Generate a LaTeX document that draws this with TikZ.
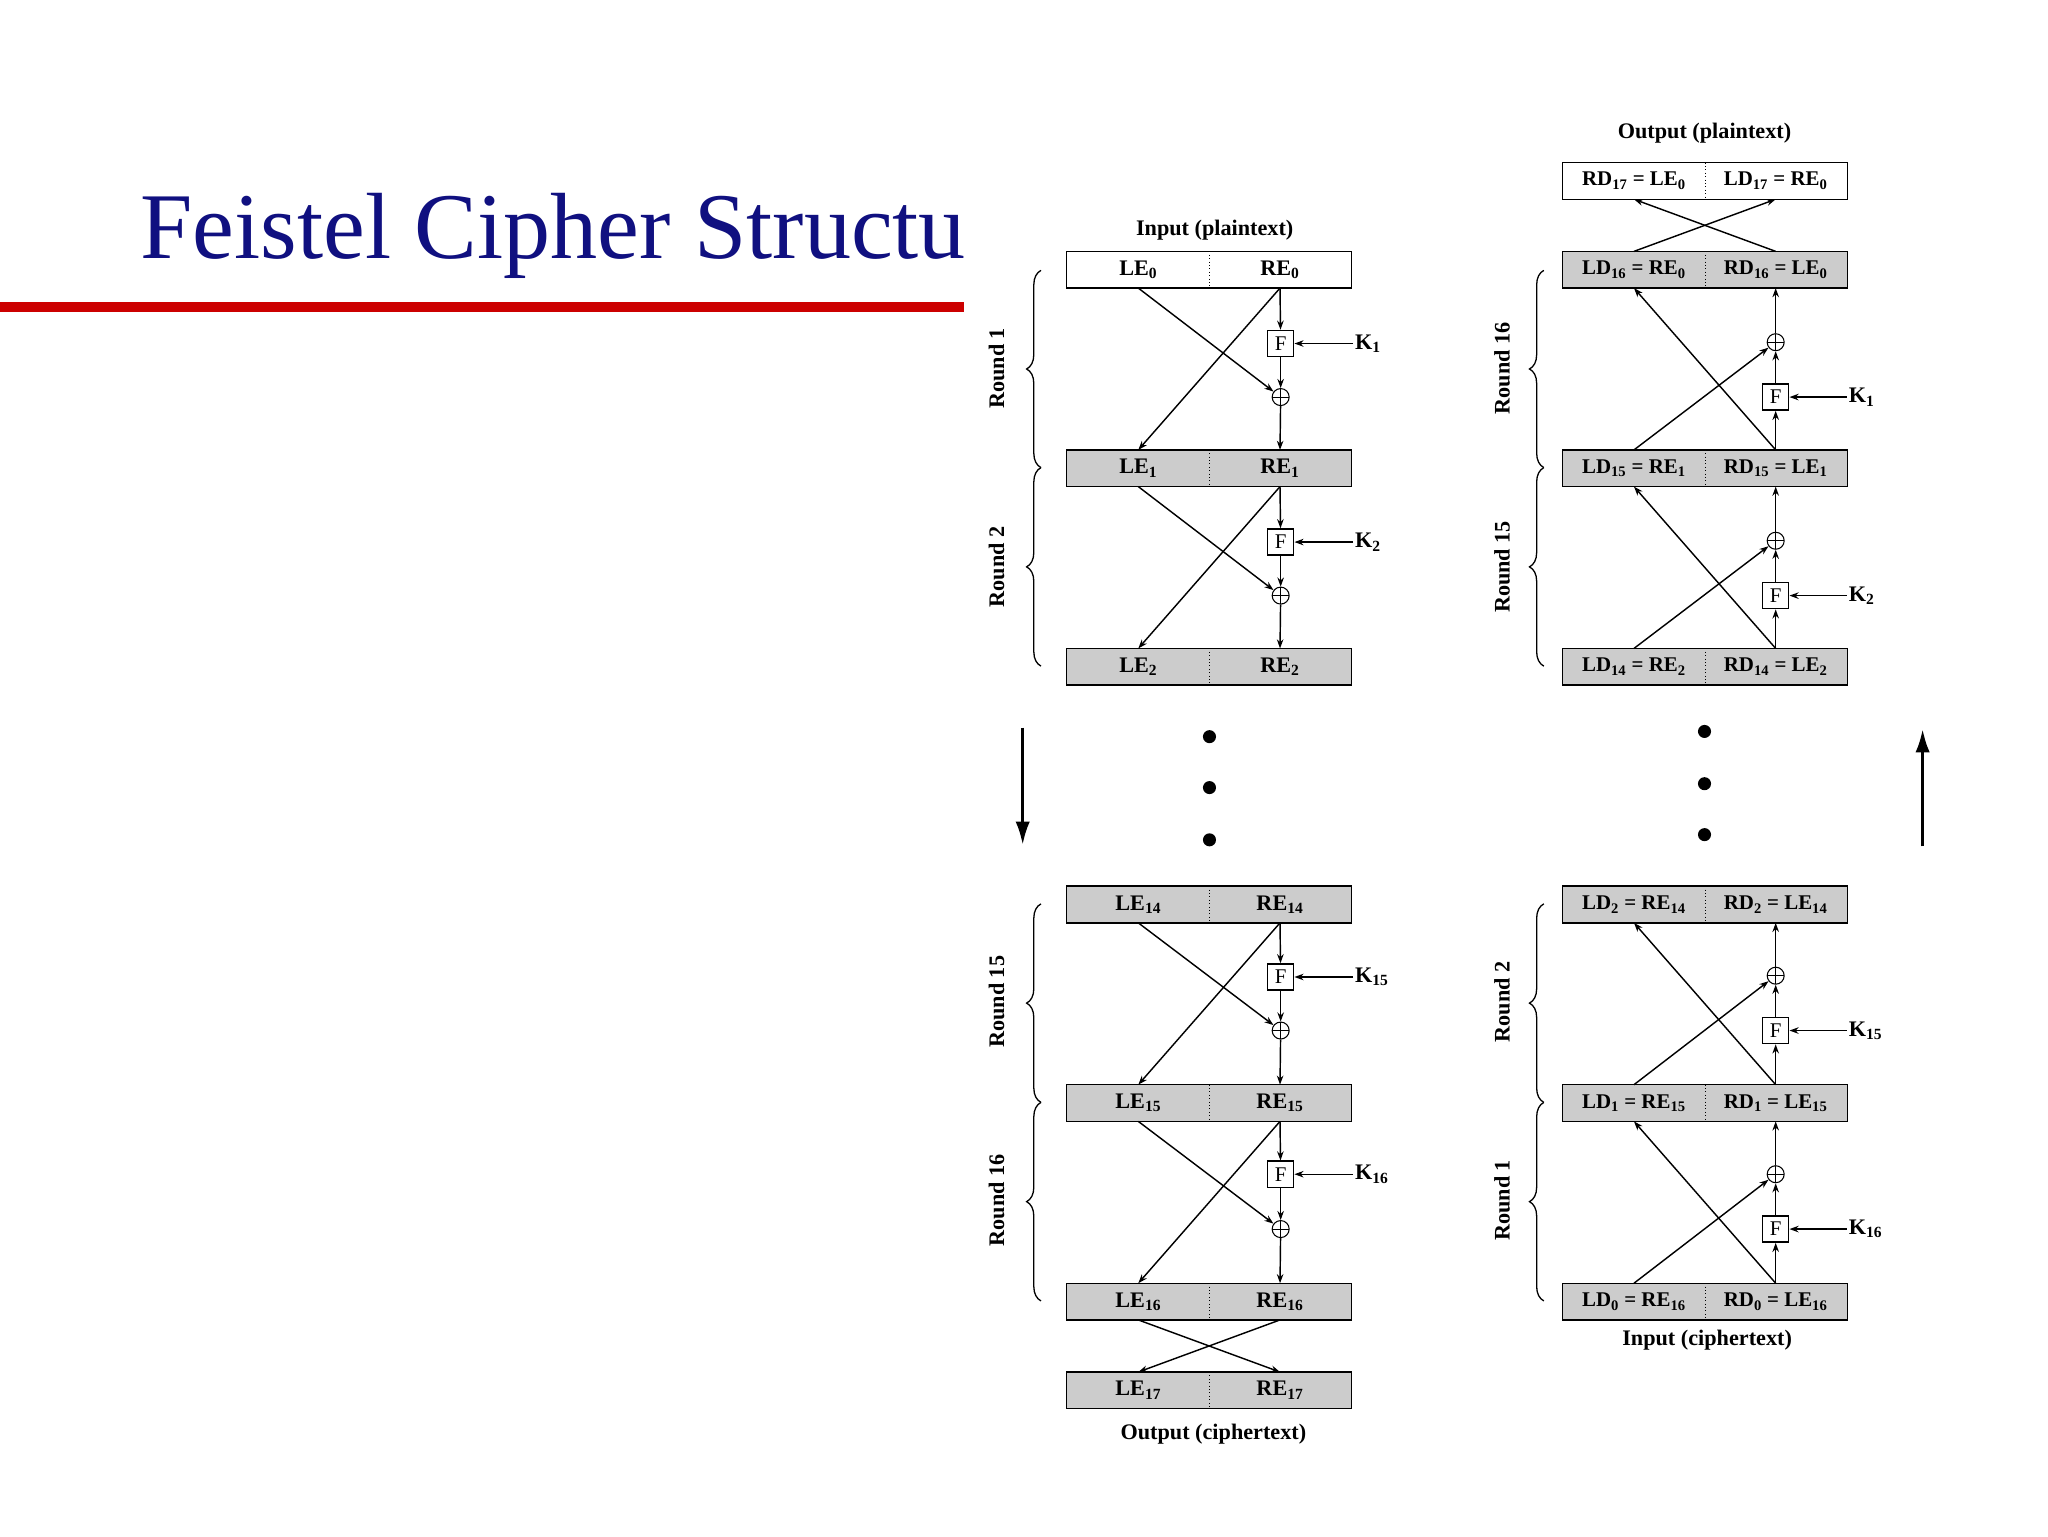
\documentclass[tikz,border=0pt]{standalone}
\usepackage{fontspec}
\setmainfont{Liberation Serif}
\usetikzlibrary{arrows.meta,decorations.pathreplacing}
\definecolor{titleblue}{RGB}{16,16,128}
\definecolor{boxgray}{RGB}{204,204,204}
\definecolor{linered}{RGB}{204,0,0}
\newcommand\feibox[6]{%
  \node[half,fill=#4] (#1L) at (#2,#3) {#5};
  \node[half,fill=#4] (#1R) at (#2+108.5,#3) {#6};
  \draw (#1L.north west) rectangle (#1R.south east);
  \draw[dotted,line width=0.6pt] (#1L.north east) -- (#1L.south east);}
\newcommand\encround[6]{%
  \node[fbx] (F#6) at (980.5,#3) {F};
  \node[xor] (X#6) at (980.5,#4) {};
  \node[klab] (K#6) at (1036,#3) {K\textsubscript{#5}};
  \draw[->] (#1R.south) -- (F#6);
  \draw[->] (F#6) -- (X#6);
  \draw[->] (X#6) -- (#2R.north);
  \draw[->] (#1L.south) -- (X#6);
  \draw[->] (#1R.south) -- (#2L.north);
  \draw[->] (K#6.west) -- (F#6);}
\newcommand\decround[6]{%
  \node[fbx] (F#6) at (1359.5,#3) {F};
  \node[xor] (X#6) at (1359.5,#4) {};
  \node[klab] (K#6) at (1414,#3) {K\textsubscript{#5}};
  \draw[->] (#1R.north) -- (F#6);
  \draw[->] (F#6) -- (X#6);
  \draw[->] (X#6) -- (#2R.south);
  \draw[->] (#1L.north) -- (X#6);
  \draw[->] (#1R.north) -- (#2L.south);
  \draw[->] (K#6.west) -- (F#6);}
\begin{document}
\begin{tikzpicture}[x=1pt,y=-1pt,line width=1.1pt,
  >={Stealth[length=7pt,width=5pt]},
  half/.style={minimum width=108.5pt,minimum height=27pt,inner sep=0pt,font=\fontsize{17}{17}\selectfont\bfseries},
  fbx/.style={draw,fill=white,minimum size=20pt,inner sep=0pt,font=\fontsize{16}{16}\selectfont},
  xor/.style={circle,draw,minimum size=13pt,inner sep=0pt,line width=0.8pt,
    path picture={\draw[line width=0.6pt] (path picture bounding box.north)--(path picture bounding box.south)
      (path picture bounding box.west)--(path picture bounding box.east);}},
  klab/.style={anchor=west,inner sep=1pt,font=\fontsize{17}{17}\selectfont\bfseries},
  captxt/.style={font=\fontsize{17}{17}\selectfont\bfseries},
  rlab/.style={rotate=90,font=\fontsize{17}{17}\selectfont\bfseries},
  brc/.style={decorate,decoration={brace,amplitude=11pt},line width=1pt},
  bigarrow/.style={line width=2.5pt,-{Latex[length=18pt,width=11pt]}}]
\useasboundingbox (0,0) rectangle (1568,1176);
\fill[white] (0,0) rectangle (1568,1176);
% title
\begin{scope}
\clip (0,0) rectangle (738,300);
\node[anchor=base west,text=titleblue,inner sep=0pt,font=\fontsize{72}{72}\selectfont] (title) at (107,198) {Feistel Cipher Structure};
\end{scope}
\fill[linered] (0,231) rectangle (738,239);
% ---------- encryption ----------
\node[captxt] (inp) at (930,176) {Input (plaintext)};
\feibox{e0}{871.5}{206.5}{white}{LE\textsubscript{0}}{RE\textsubscript{0}}
\feibox{e1}{871.5}{358.5}{boxgray}{LE\textsubscript{1}}{RE\textsubscript{1}}
\feibox{e2}{871.5}{510.5}{boxgray}{LE\textsubscript{2}}{RE\textsubscript{2}}
\feibox{e14}{871.5}{692.5}{boxgray}{LE\textsubscript{14}}{RE\textsubscript{14}}
\feibox{e15}{871.5}{844.5}{boxgray}{LE\textsubscript{15}}{RE\textsubscript{15}}
\feibox{e16}{871.5}{996.5}{boxgray}{LE\textsubscript{16}}{RE\textsubscript{16}}
\feibox{e17}{871.5}{1064.5}{boxgray}{LE\textsubscript{17}}{RE\textsubscript{17}}
\node[captxt] (outc) at (929,1098) {Output (ciphertext)};
\encround{e0}{e1}{263}{304}{1}{a}
\encround{e1}{e2}{415}{456}{2}{b}
\encround{e14}{e15}{748}{789}{15}{c}
\encround{e15}{e16}{899}{941}{16}{d}
\draw[->] (e16L.south) -- (e17R.north);
\draw[->] (e16R.south) -- (e17L.north);
\draw[brc] (797,358) -- (797,207);
\draw[brc] (797,510) -- (797,358);
\draw[brc] (797,844) -- (797,692);
\draw[brc] (797,996) -- (797,844);
\node[rlab] (r1) at (763,282) {Round 1};
\node[rlab] (r2) at (763,434) {Round 2};
\node[rlab] (r15) at (763,767) {Round 15};
\node[rlab] (r16) at (763,919) {Round 16};
\foreach \yy in {564,603,643} \fill (926,\yy) circle (5pt);
\coordinate (da1) at (783,557); \coordinate (da2) at (783,647);
\draw[bigarrow] (da1) -- (da2);
% ---------- decryption ----------
\node[captxt] (outp) at (1305,102) {Output (plaintext)};
\begin{scope}[half/.append style={font=\fontsize{16}{16}\selectfont\bfseries}]
\feibox{d17}{1251}{138.5}{white}{RD\textsubscript{17} = LE\textsubscript{0}}{LD\textsubscript{17} = RE\textsubscript{0}}
\feibox{d16}{1251}{206.5}{boxgray}{LD\textsubscript{16} = RE\textsubscript{0}}{RD\textsubscript{16} = LE\textsubscript{0}}
\feibox{d15}{1251}{358.5}{boxgray}{LD\textsubscript{15} = RE\textsubscript{1}}{RD\textsubscript{15} = LE\textsubscript{1}}
\feibox{d14}{1251}{510.5}{boxgray}{LD\textsubscript{14} = RE\textsubscript{2}}{RD\textsubscript{14} = LE\textsubscript{2}}
\feibox{d2}{1251}{692.5}{boxgray}{LD\textsubscript{2} = RE\textsubscript{14}}{RD\textsubscript{2} = LE\textsubscript{14}}
\feibox{d1}{1251}{844.5}{boxgray}{LD\textsubscript{1} = RE\textsubscript{15}}{RD\textsubscript{1} = LE\textsubscript{15}}
\feibox{d0}{1251}{996.5}{boxgray}{LD\textsubscript{0} = RE\textsubscript{16}}{RD\textsubscript{0} = LE\textsubscript{16}}
\end{scope}
\node[captxt] (inc) at (1307,1026) {Input (ciphertext)};
\decround{d15}{d16}{304}{262}{1}{p}
\decround{d14}{d15}{456}{414}{2}{q}
\decround{d1}{d2}{789}{747}{15}{r}
\decround{d0}{d1}{941}{899}{16}{s}
\draw[->] (d16L.north) -- (d17R.south);
\draw[->] (d16R.north) -- (d17L.south);
\draw[brc] (1182,358) -- (1182,207);
\draw[brc] (1182,510) -- (1182,358);
\draw[brc] (1182,844) -- (1182,692);
\draw[brc] (1182,996) -- (1182,844);
\node[rlab] (s16) at (1150,282) {Round 16};
\node[rlab] (s15) at (1150,434) {Round 15};
\node[rlab] (s2) at (1150,767) {Round 2};
\node[rlab] (s1) at (1150,919) {Round 1};
\foreach \yy in {560,600,639} \fill (1305,\yy) circle (5pt);
\coordinate (ua1) at (1472,648); \coordinate (ua2) at (1472,558);
\draw[bigarrow] (ua1) -- (ua2);
\end{tikzpicture}
\end{document}
